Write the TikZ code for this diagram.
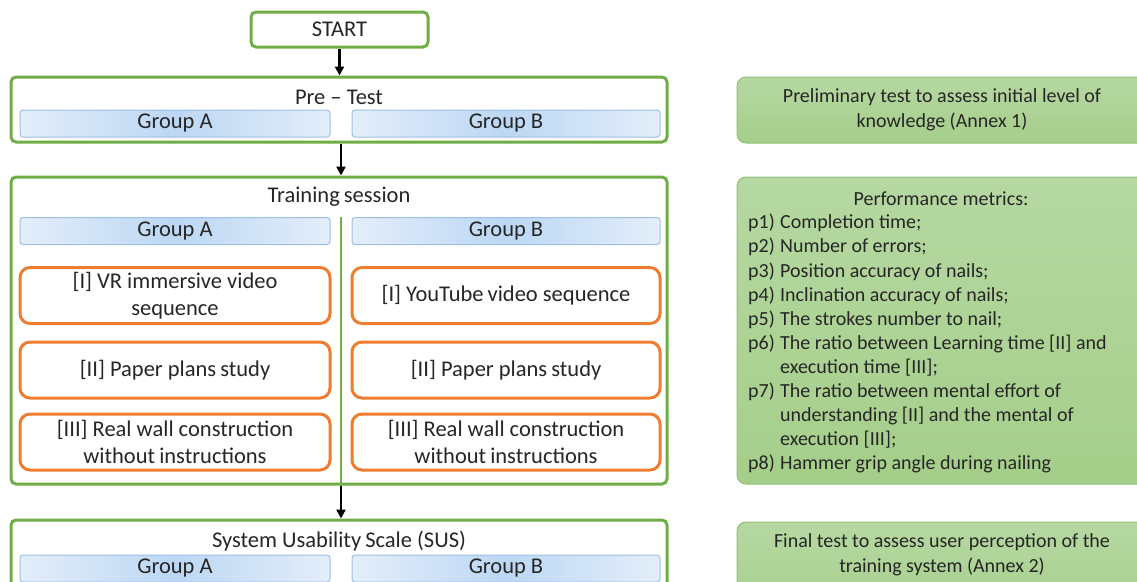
\documentclass[tikz,border=0pt]{standalone}
\usepackage{fontspec}
\setmainfont{Carlito}
\usetikzlibrary{arrows.meta,shadings}
\definecolor{frame}{HTML}{70AD47}
\definecolor{step}{HTML}{ED7D31}
\definecolor{ink}{HTML}{262626}
\definecolor{barline}{HTML}{9DBFE6}
\definecolor{barlight}{HTML}{E4EEFA}
\definecolor{barmid}{HTML}{BCD7F4}
\definecolor{notetop}{HTML}{B6D8A2}
\definecolor{notebot}{HTML}{A5CE8A}
\definecolor{noteline}{HTML}{93C177}
\tikzset{
  txt/.style={font=\fontsize{20}{24.1}\selectfont, text=ink},
  ltxt/.style={font=\fontsize{22.5}{27.5}\selectfont, text=ink},
  phase/.style={draw=frame, line width=3pt, rounded corners=5pt, fill=white, inner sep=0pt},
  groupbar/.style={draw=barline, line width=1pt, rounded corners=3pt,
    left color=barlight, right color=barlight, middle color=barmid,
    ltxt, inner sep=0pt, minimum height=27pt},
  stepbox/.style={draw=step, line width=3pt, rounded corners=10pt, fill=white,
    ltxt, align=center, inner sep=0pt, minimum height=56pt},
  note/.style={draw=noteline, line width=1pt, rounded corners=9pt,
    top color=notetop, bottom color=notebot, inner sep=0pt},
  arr/.style={draw=black, line width=2.6pt, -{Triangle[length=9pt,width=9pt]}},
}
\begin{document}
\begin{tikzpicture}[x=1pt,y=-1pt]
\useasboundingbox (0,0) rectangle (1137,581);
\clip (0,0) rectangle (1137,581);

% start
\node[phase, ltxt, minimum width=177pt, minimum height=35pt] (start) at (339.5,29.5) {START};

% pre-test phase
\node[phase, minimum width=656pt, minimum height=65pt] (pre) at (339,109.5) {};
\node[ltxt] (pretitle) at (339,97) {Pre -- Test};
\node[groupbar, minimum width=310pt] (preA) at (175,123.5) {Group A};
\node[groupbar, minimum width=308pt] (preB) at (506,123.5) {Group B};

% training phase
\node[phase, minimum width=656pt, minimum height=307pt] (train) at (339,330.5) {};
\node[ltxt] (traintitle) at (339,197) {Training\hspace{-1pt} session};
\coordinate (divtop) at (341,217);
\draw[frame, line width=2.6pt] (divtop) -- (divtop |- train.south);
\node[groupbar, minimum width=310pt] (trA) at (175,231) {Group A};
\node[groupbar, minimum width=308pt] (trB) at (506,231) {Group B};
\node[stepbox, minimum width=310pt] (a1) at (175,295.5) {[I] VR immersive video\\sequence};
\node[stepbox, minimum width=308pt] (b1) at (506,295.5) {[I] YouTube\hspace{-1pt} video sequence};
\node[stepbox, minimum width=310pt] (a2) at (175,370) {[II] Paper plans\hspace{-1pt} study};
\node[stepbox, minimum width=308pt] (b2) at (506,370) {[II] Paper plans\hspace{-1pt} study};
\node[stepbox, minimum width=310pt] (a3) at (175,442) {[III] Real wall construction\\without\hspace{-1pt} instructions};
\node[stepbox, minimum width=308pt] (b3) at (506,442) {[III] Real wall construction\\without\hspace{-1pt} instructions};

% usability phase
\node[phase, minimum width=656pt, minimum height=100pt] (sus) at (339,570) {};
\node[ltxt] (sustitle) at (339,541) {System Usability\hspace{-1pt} Scale (SUS)};
\node[groupbar, minimum width=310pt] (susA) at (175,568.5) {Group A};
\node[groupbar, minimum width=308pt] (susB) at (506,568.5) {Group B};

% flow arrows
\draw[arr] (start.south) -- (start.south |- pre.north);
\draw[arr] (pre.south -| divtop) -- (divtop |- train.north);
\draw[arr] (train.south -| divtop) -- (divtop |- sus.north);

% side notes
\node[note, minimum width=410pt, minimum height=66pt] (n1) at (942,110) {};
\node[txt, align=center, font=\fontsize{20}{25.5}\selectfont] (n1t) at (942,110) {Preliminary test to assess initial level of\\knowledge (Annex 1)};

\node[note, minimum width=410pt, minimum height=307pt] (n2) at (942,330.5) {};
\node[txt] (n2title) at (941,199) {Performance metrics:};
\node[txt, align=left, anchor=north west, inner sep=0pt] (n2list) at (748,214) {%
\makebox[32pt][l]{p1)}Completion time;\\
\makebox[32pt][l]{p2)}Number of errors;\\
\makebox[32pt][l]{p3)}Position accuracy of nails;\\
\makebox[32pt][l]{p4)}Inclination accuracy of nails;\\
\makebox[32pt][l]{p5)}The strokes number to nail;\\
\makebox[32pt][l]{p6)}The ratio between Learning time [II] and\\
\hspace*{32pt}execution time [III];\\
\makebox[32pt][l]{p7)}The ratio between mental effort of\\
\hspace*{32pt}understanding [II] and the mental of\\
\hspace*{32pt}execution [III];\\
\makebox[32pt][l]{p8)}Hammer grip angle during nailing};

\node[note, minimum width=410pt, minimum height=100pt] (n3) at (942,572) {};
\node[txt, align=center, font=\fontsize{20}{25}\selectfont] (n3t) at (942,555) {Final test to assess user perception of the\\training system (Annex 2)};
\end{tikzpicture}
\end{document}
